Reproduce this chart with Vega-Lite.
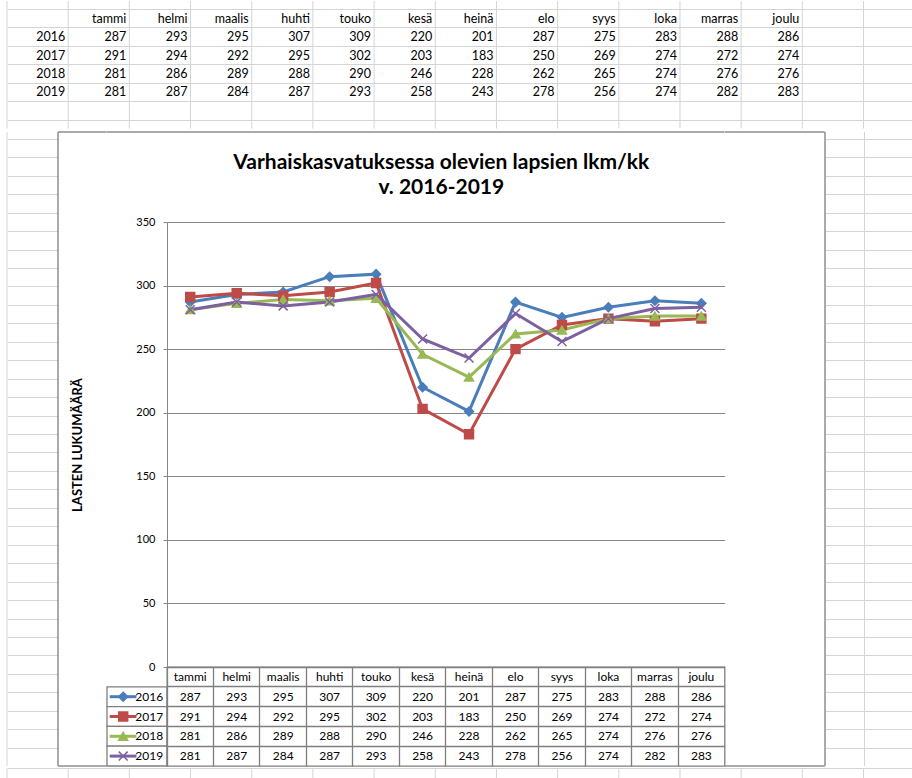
{
  "$schema": "https://vega.github.io/schema/vega-lite/v6.json",
  "padding": 0,
  "background": "white",
  "spacing": 0,
  "bounds": "full",
  "config": {"view": {"stroke": null}, "font": "Lato", "axis": {"minExtent": 0}},
  "datasets": {
    "vals": [
      {"year": "2016", "month": "tammi", "value": 287}, {"year": "2016", "month": "helmi", "value": 293}, {"year": "2016", "month": "maalis", "value": 295}, {"year": "2016", "month": "huhti", "value": 307}, {"year": "2016", "month": "touko", "value": 309}, {"year": "2016", "month": "kesä", "value": 220}, {"year": "2016", "month": "heinä", "value": 201}, {"year": "2016", "month": "elo", "value": 287}, {"year": "2016", "month": "syys", "value": 275}, {"year": "2016", "month": "loka", "value": 283}, {"year": "2016", "month": "marras", "value": 288}, {"year": "2016", "month": "joulu", "value": 286},
      {"year": "2017", "month": "tammi", "value": 291}, {"year": "2017", "month": "helmi", "value": 294}, {"year": "2017", "month": "maalis", "value": 292}, {"year": "2017", "month": "huhti", "value": 295}, {"year": "2017", "month": "touko", "value": 302}, {"year": "2017", "month": "kesä", "value": 203}, {"year": "2017", "month": "heinä", "value": 183}, {"year": "2017", "month": "elo", "value": 250}, {"year": "2017", "month": "syys", "value": 269}, {"year": "2017", "month": "loka", "value": 274}, {"year": "2017", "month": "marras", "value": 272}, {"year": "2017", "month": "joulu", "value": 274},
      {"year": "2018", "month": "tammi", "value": 281}, {"year": "2018", "month": "helmi", "value": 286}, {"year": "2018", "month": "maalis", "value": 289}, {"year": "2018", "month": "huhti", "value": 288}, {"year": "2018", "month": "touko", "value": 290}, {"year": "2018", "month": "kesä", "value": 246}, {"year": "2018", "month": "heinä", "value": 228}, {"year": "2018", "month": "elo", "value": 262}, {"year": "2018", "month": "syys", "value": 265}, {"year": "2018", "month": "loka", "value": 274}, {"year": "2018", "month": "marras", "value": 276}, {"year": "2018", "month": "joulu", "value": 276},
      {"year": "2019", "month": "tammi", "value": 281}, {"year": "2019", "month": "helmi", "value": 287}, {"year": "2019", "month": "maalis", "value": 284}, {"year": "2019", "month": "huhti", "value": 287}, {"year": "2019", "month": "touko", "value": 293}, {"year": "2019", "month": "kesä", "value": 258}, {"year": "2019", "month": "heinä", "value": 243}, {"year": "2019", "month": "elo", "value": 278}, {"year": "2019", "month": "syys", "value": 256}, {"year": "2019", "month": "loka", "value": 274}, {"year": "2019", "month": "marras", "value": 282}, {"year": "2019", "month": "joulu", "value": 283}
    ]
  },
  "vconcat": [
    {
      "width": 912, "height": 127.5,
      "data": {"name": "vals"},
      "layer": [
        {
          "mark": {"type": "text", "align": "right", "baseline": "middle", "dx": -3, "fontSize": 12.5, "color": "#000"},
          "encoding": {
            "x": {"field": "month", "type": "nominal", "bandPosition": 1,
                  "scale": {"type": "band", "domain": ["lbl", "tammi", "helmi", "maalis", "huhti", "touko", "kesä", "heinä", "elo", "syys", "loka", "marras", "joulu", "e13", "e14"], "range": [7, 924.7], "paddingInner": 0, "paddingOuter": 0},
                  "axis": null},
            "y": {"field": "year", "type": "nominal",
                  "scale": {"type": "band", "domain": ["hdr", "2016", "2017", "2018", "2019", "e5", "e6"], "range": [8.4, 137.55], "paddingInner": 0, "paddingOuter": 0},
                  "axis": {"grid": true, "bandPosition": 0, "labels": false, "ticks": false, "domain": false, "title": null, "gridColor": "#d4d4d4", "gridWidth": 1}},
            "text": {"field": "value", "type": "quantitative"}
          }
        },
        {
          "transform": [{"filter": "datum.year == '2016'"}],
          "mark": {"type": "text", "align": "right", "baseline": "middle", "dx": -3, "fontSize": 12.5, "color": "#000"},
          "encoding": {
            "x": {"field": "month", "type": "nominal", "bandPosition": 1},
            "y": {"datum": "hdr"},
            "text": {"field": "month", "type": "nominal"}
          }
        },
        {
          "transform": [{"filter": "datum.month == 'tammi'"}],
          "mark": {"type": "text", "align": "right", "baseline": "middle", "dx": -3, "fontSize": 12.5, "color": "#000"},
          "encoding": {
            "x": {"datum": "lbl", "bandPosition": 1},
            "y": {"field": "year", "type": "nominal"},
            "text": {"field": "year", "type": "nominal"}
          }
        },
        {
          "transform": [{"filter": "datum.year == '2016'"}],
          "mark": {"type": "rule", "color": "#d4d4d4", "strokeWidth": 1},
          "encoding": {"x": {"field": "month", "type": "nominal", "bandPosition": 0}}
        },
        {"data": {"values": [{}]}, "mark": {"type": "rule", "color": "#d4d4d4", "strokeWidth": 1}, "encoding": {"x": {"datum": "lbl", "type": "nominal", "bandPosition": 0}}},
        {"data": {"values": [{}]}, "mark": {"type": "rule", "color": "#d4d4d4", "strokeWidth": 1}, "encoding": {"x": {"datum": "e13", "type": "nominal", "bandPosition": 0}}},
        {"data": {"values": [{}]}, "mark": {"type": "rule", "color": "#d4d4d4", "strokeWidth": 1}, "encoding": {"x": {"datum": "e14", "type": "nominal", "bandPosition": 0}}}
      ]
    },
    {
      "columns": 6,
      "spacing": 0,
      "bounds": "flush",
      "align": "each",
      "concat": [
        {
          "width": 58, "height": 90,
          "layer": [
            {"data": {"values": []}, "mark": "point", "encoding": {
              "x": {"field": "c", "type": "nominal", "scale": {"type": "band", "domain": ["lbl"], "range": [7, 58], "paddingInner": 0, "paddingOuter": 0}, "axis": null},
              "y": {"field": "r", "type": "nominal", "scale": {"type": "band", "domain": ["a0","a1","a2","a3","a4"], "range": [7.35, 99.6], "paddingInner": 0, "paddingOuter": 0},
                    "axis": {"grid": true, "bandPosition": 0, "labels": false, "ticks": false, "domain": false, "title": null, "gridColor": "#d4d4d4", "gridWidth": 1}}}},
            {"data": {"values": [{}]}, "mark": {"type": "rule", "color": "#d4d4d4", "strokeWidth": 1}, "encoding": {"x": {"datum": "lbl", "type": "nominal", "bandPosition": 0}}},
            {"data": {"values": [{}]}, "mark": {"type": "rule", "color": "#8e8e8e", "strokeWidth": 1.5}, "encoding": {"x": {"value": "width"}}}
          ]
        },
        {"width": 48.7, "height": 90, "data": {"values": [{}]}, "mark": {"type": "rule", "color": "#8e8e8e", "strokeWidth": 1.5}, "encoding": {"y": {"value": 0}}},
        {"width": 60, "height": 90, "data": {"values": [{}]}, "mark": {"type": "rule", "color": "#8e8e8e", "strokeWidth": 1.5}, "encoding": {"y": {"value": 0}}},
        {
          "width": 557.6, "height": 90,
          "data": {"values": [{}]},
          "layer": [
            {"mark": {"type": "rule", "color": "#8e8e8e", "strokeWidth": 1.5}, "encoding": {"y": {"value": 0}}},
            {
              "mark": {"type": "text", "align": "center", "baseline": "alphabetic", "fontSize": 21, "fontWeight": "bold", "color": "#000", "lineHeight": 25.5},
              "encoding": {
                "x": {"datum": 0.492, "type": "quantitative", "scale": {"domain": [0, 1]}, "axis": null},
                "y": {"datum": 0.589, "type": "quantitative", "scale": {"domain": [0, 1]}, "axis": null},
                "text": {"value": ["Varhaiskasvatuksessa olevien lapsien lkm/kk", "v. 2016-2019"]}
              }
            }
          ]
        },
        {"width": 99.7, "height": 90, "data": {"values": [{}]}, "mark": {"type": "rule", "color": "#8e8e8e", "strokeWidth": 1.5}, "encoding": {"y": {"value": 0}}},
        {
          "width": 88, "height": 90,
          "layer": [
            {"data": {"values": []}, "mark": "point", "encoding": {
              "x": {"field": "v", "type": "quantitative", "scale": {"domain": [0, 1]}, "axis": null},
              "y": {"field": "r", "type": "nominal", "scale": {"type": "band", "domain": ["a0","a1","a2","a3","a4"], "range": [7.35, 99.6], "paddingInner": 0, "paddingOuter": 0},
                    "axis": {"grid": true, "bandPosition": 0, "labels": false, "ticks": false, "domain": false, "title": null, "gridColor": "#d4d4d4", "gridWidth": 1}}}},
            {"data": {"values": [{}]}, "mark": {"type": "rule", "color": "#d4d4d4", "strokeWidth": 1}, "encoding": {"x": {"datum": 0.449, "type": "quantitative"}}},
            {"data": {"values": [{}]}, "mark": {"type": "rule", "color": "#8e8e8e", "strokeWidth": 1.5}, "encoding": {"x": {"value": 0}}}
          ]
        },

        {
          "width": 58, "height": 445,
          "layer": [
            {"data": {"values": []}, "mark": "point", "encoding": {
              "x": {"field": "c", "type": "nominal", "scale": {"type": "band", "domain": ["lbl"], "range": [7, 58], "paddingInner": 0, "paddingOuter": 0}, "axis": null},
              "y": {"field": "r", "type": "nominal", "scale": {"type": "band", "domain": ["b0","b1","b2","b3","b4","b5","b6","b7","b8","b9","b10","b11","b12","b13","b14","b15","b16","b17","b18","b19","b20","b21","b22","b23"], "range": [9.6, 452.4], "paddingInner": 0, "paddingOuter": 0},
                    "axis": {"grid": true, "bandPosition": 0, "labels": false, "ticks": false, "domain": false, "title": null, "gridColor": "#d4d4d4", "gridWidth": 1}}}},
            {"data": {"values": [{}]}, "mark": {"type": "rule", "color": "#d4d4d4", "strokeWidth": 1}, "encoding": {"x": {"datum": "lbl", "type": "nominal", "bandPosition": 0}}},
            {"data": {"values": [{}]}, "mark": {"type": "rule", "color": "#8e8e8e", "strokeWidth": 1.5}, "encoding": {"x": {"value": "width"}}}
          ]
        },
        {"width": 48.7, "height": 445, "data": {"values": []}, "mark": "point", "encoding": {}},
        {"width": 60, "height": 445, "data": {"values": []}, "mark": "point", "encoding": {}},
        {
          "width": 557.6, "height": 445,
          "data": {"name": "vals"},
          "encoding": {
            "x": {"field": "month", "type": "nominal", "scale": {"type": "point", "domain": ["tammi", "helmi", "maalis", "huhti", "touko", "kesä", "heinä", "elo", "syys", "loka", "marras", "joulu"], "padding": 0.5}, "axis": null},
            "y": {"field": "value", "type": "quantitative", "scale": {"domain": [0, 350], "nice": false},
                  "axis": {"values": [0, 50, 100, 150, 200, 250, 300, 350], "grid": true, "gridColor": "#868686", "domainColor": "#868686", "tickColor": "#868686", "tickSize": 4, "labelPadding": 8, "labelFontSize": 11, "labelColor": "#000", "title": "LASTEN LUKUMÄÄRÄ", "titleFontSize": 13, "titleFontWeight": "bold", "titleColor": "#000", "titlePadding": 51}},
            "color": {"field": "year", "type": "nominal", "scale": {"domain": ["2016", "2017", "2018", "2019"], "range": ["#4A7EBB", "#BE4B48", "#98B954", "#7D60A0"]}, "legend": null}
          },
          "layer": [
            {"mark": {"type": "line", "strokeWidth": 3}},
            {
              "mark": {"type": "point", "filled": true, "opacity": 1, "size": 80, "strokeWidth": 1.5},
              "encoding": {
                "shape": {"field": "year", "type": "nominal", "scale": {"domain": ["2016", "2017", "2018", "2019"], "range": ["diamond", "square", "triangle-up", "M-1,-1L1,1M-1,1L1,-1"]}, "legend": null},
                "stroke": {"field": "year", "type": "nominal", "scale": {"domain": ["2016", "2017", "2018", "2019"], "range": ["#4A7EBB", "#BE4B48", "#98B954", "#7D60A0"]}, "legend": null}
              }
            }
          ]
        },
        {"width": 99.7, "height": 445, "data": {"values": []}, "mark": "point", "encoding": {}},
        {
          "width": 88, "height": 445,
          "layer": [
            {"data": {"values": []}, "mark": "point", "encoding": {
              "x": {"field": "v", "type": "quantitative", "scale": {"domain": [0, 1]}, "axis": null},
              "y": {"field": "r", "type": "nominal", "scale": {"type": "band", "domain": ["b0","b1","b2","b3","b4","b5","b6","b7","b8","b9","b10","b11","b12","b13","b14","b15","b16","b17","b18","b19","b20","b21","b22","b23"], "range": [9.6, 452.4], "paddingInner": 0, "paddingOuter": 0},
                    "axis": {"grid": true, "bandPosition": 0, "labels": false, "ticks": false, "domain": false, "title": null, "gridColor": "#d4d4d4", "gridWidth": 1}}}},
            {"data": {"values": [{}]}, "mark": {"type": "rule", "color": "#d4d4d4", "strokeWidth": 1}, "encoding": {"x": {"datum": 0.449, "type": "quantitative"}}},
            {"data": {"values": [{}]}, "mark": {"type": "rule", "color": "#8e8e8e", "strokeWidth": 1.5}, "encoding": {"x": {"value": 0}}}
          ]
        },

        {
          "width": 58, "height": 99,
          "layer": [
            {"data": {"values": []}, "mark": "point", "encoding": {
              "x": {"field": "c", "type": "nominal", "scale": {"type": "band", "domain": ["lbl"], "range": [7, 58], "paddingInner": 0, "paddingOuter": 0}, "axis": null},
              "y": {"field": "r", "type": "nominal", "scale": {"type": "band", "domain": ["d0","d1","d2","d3","d4"], "range": [7.4, 99.65], "paddingInner": 0, "paddingOuter": 0},
                    "axis": {"grid": true, "bandPosition": 0, "labels": false, "ticks": false, "domain": false, "title": null, "gridColor": "#d4d4d4", "gridWidth": 1}}}},
            {"data": {"values": [{}]}, "mark": {"type": "rule", "color": "#d4d4d4", "strokeWidth": 1}, "encoding": {"x": {"datum": "lbl", "type": "nominal", "bandPosition": 0}}},
            {"data": {"values": [{}]}, "mark": {"type": "rule", "color": "#8e8e8e", "strokeWidth": 1.5}, "encoding": {"x": {"value": "width"}}}
          ]
        },
        {"width": 48.7, "height": 99, "data": {"values": [{}]}, "mark": {"type": "rule", "color": "#8e8e8e", "strokeWidth": 1.5}, "encoding": {"y": {"value": "height"}}},
        {
          "width": 60, "height": 99,
          "data": {"name": "vals"},
          "transform": [{"filter": "datum.month == 'tammi'"}],
          "encoding": {
            "y": {"field": "year", "type": "nominal", "scale": {"type": "band", "domain": ["hdr", "2016", "2017", "2018", "2019"], "paddingInner": 0, "paddingOuter": 0}, "axis": null}
          },
          "layer": [
            {"mark": {"type": "rect", "fill": "white", "stroke": "#7f7f7f", "strokeWidth": 1.3},
             "encoding": {"x": {"value": 0}, "x2": {"value": "width"}}},
            {"mark": {"type": "rule", "strokeWidth": 3},
             "encoding": {
               "x": {"datum": 0.045, "type": "quantitative", "scale": {"domain": [0, 1]}, "axis": null},
               "x2": {"datum": 0.49},
               "color": {"field": "year", "type": "nominal", "scale": {"domain": ["2016", "2017", "2018", "2019"], "range": ["#4A7EBB", "#BE4B48", "#98B954", "#7D60A0"]}, "legend": null}
             }},
            {"mark": {"type": "point", "filled": true, "opacity": 1, "size": 80, "strokeWidth": 1.5},
             "encoding": {
               "x": {"datum": 0.27, "type": "quantitative"},
               "color": {"field": "year", "type": "nominal", "legend": null},
               "shape": {"field": "year", "type": "nominal", "scale": {"domain": ["2016", "2017", "2018", "2019"], "range": ["diamond", "square", "triangle-up", "M-1,-1L1,1M-1,1L1,-1"]}, "legend": null},
               "stroke": {"field": "year", "type": "nominal", "scale": {"domain": ["2016", "2017", "2018", "2019"], "range": ["#4A7EBB", "#BE4B48", "#98B954", "#7D60A0"]}, "legend": null}
             }},
            {"mark": {"type": "text", "align": "right", "baseline": "middle", "fontSize": 12, "color": "#000"},
             "encoding": {
               "x": {"datum": 0.935, "type": "quantitative"},
               "text": {"field": "year", "type": "nominal"}
             }}
          ]
        },
        {
          "width": 557.6, "height": 99,
          "view": {"stroke": "#7f7f7f", "strokeWidth": 1.3},
          "data": {"name": "vals"},
          "encoding": {
            "x": {"field": "month", "type": "nominal", "scale": {"type": "band", "domain": ["tammi", "helmi", "maalis", "huhti", "touko", "kesä", "heinä", "elo", "syys", "loka", "marras", "joulu"], "paddingInner": 0, "paddingOuter": 0},
                  "axis": {"grid": true, "bandPosition": 0, "labels": false, "ticks": false, "domain": false, "title": null, "gridColor": "#7f7f7f", "gridWidth": 1.3}},
            "y": {"field": "year", "type": "nominal", "scale": {"type": "band", "domain": ["hdr", "2016", "2017", "2018", "2019"], "paddingInner": 0, "paddingOuter": 0},
                  "axis": {"grid": true, "bandPosition": 0, "labels": false, "ticks": false, "domain": false, "title": null, "gridColor": "#7f7f7f", "gridWidth": 1.3}}
          },
          "layer": [
            {"mark": {"type": "text", "baseline": "middle", "fontSize": 12, "color": "#000"},
             "encoding": {"text": {"field": "value", "type": "quantitative"}}},
            {"transform": [{"filter": "datum.year == '2016'"}],
             "mark": {"type": "text", "baseline": "middle", "fontSize": 12, "color": "#000"},
             "encoding": {"y": {"datum": "hdr"}, "text": {"field": "month", "type": "nominal"}}}
          ]
        },
        {"width": 99.7, "height": 99, "data": {"values": [{}]}, "mark": {"type": "rule", "color": "#8e8e8e", "strokeWidth": 1.5}, "encoding": {"y": {"value": "height"}}},
        {
          "width": 88, "height": 99,
          "layer": [
            {"data": {"values": []}, "mark": "point", "encoding": {
              "x": {"field": "v", "type": "quantitative", "scale": {"domain": [0, 1]}, "axis": null},
              "y": {"field": "r", "type": "nominal", "scale": {"type": "band", "domain": ["d0","d1","d2","d3","d4"], "range": [7.4, 99.65], "paddingInner": 0, "paddingOuter": 0},
                    "axis": {"grid": true, "bandPosition": 0, "labels": false, "ticks": false, "domain": false, "title": null, "gridColor": "#d4d4d4", "gridWidth": 1}}}},
            {"data": {"values": [{}]}, "mark": {"type": "rule", "color": "#d4d4d4", "strokeWidth": 1}, "encoding": {"x": {"datum": 0.449, "type": "quantitative"}}},
            {"data": {"values": [{}]}, "mark": {"type": "rule", "color": "#8e8e8e", "strokeWidth": 1.5}, "encoding": {"x": {"value": 0}}}
          ]
        }
      ]
    },
    {
      "width": 912, "height": 13,
      "data": {"name": "vals"},
      "layer": [
        {
          "data": {"values": []},
          "mark": "point",
          "encoding": {
            "x": {"field": "c", "type": "nominal", "scale": {"type": "band", "domain": ["lbl", "tammi", "helmi", "maalis", "huhti", "touko", "kesä", "heinä", "elo", "syys", "loka", "marras", "joulu", "e13", "e14"], "range": [7, 924.7], "paddingInner": 0, "paddingOuter": 0}, "axis": null},
            "y": {"field": "r", "type": "nominal", "scale": {"type": "band", "domain": ["r41"], "range": [0.7, 13], "paddingInner": 0, "paddingOuter": 0},
                  "axis": {"grid": true, "bandPosition": 0, "labels": false, "ticks": false, "domain": false, "title": null, "gridColor": "#d4d4d4", "gridWidth": 1}}
          }
        },
        {
          "transform": [{"filter": "datum.year == '2016'"}],
          "mark": {"type": "rule", "color": "#d4d4d4", "strokeWidth": 1},
          "encoding": {"x": {"field": "month", "type": "nominal", "bandPosition": 0}}
        },
        {"data": {"values": [{}]}, "mark": {"type": "rule", "color": "#d4d4d4", "strokeWidth": 1}, "encoding": {"x": {"datum": "lbl", "type": "nominal", "bandPosition": 0}}},
        {"data": {"values": [{}]}, "mark": {"type": "rule", "color": "#d4d4d4", "strokeWidth": 1}, "encoding": {"x": {"datum": "e13", "type": "nominal", "bandPosition": 0}}},
        {"data": {"values": [{}]}, "mark": {"type": "rule", "color": "#d4d4d4", "strokeWidth": 1}, "encoding": {"x": {"datum": "e14", "type": "nominal", "bandPosition": 0}}}
      ]
    }
  ]
}
